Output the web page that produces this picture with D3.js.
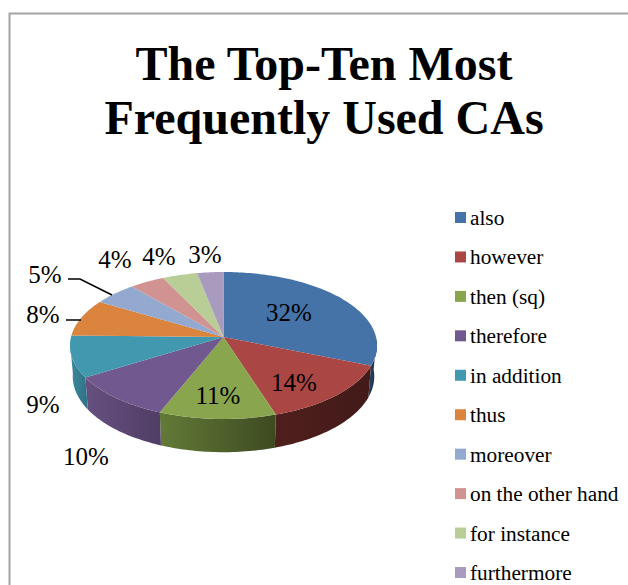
<!DOCTYPE html>
<html>
<head>
<meta charset="utf-8">
<title>The Top-Ten Most Frequently Used CAs</title>
<script src="https://cdn.jsdelivr.net/npm/d3@7"></script>
<style>
  html, body { margin: 0; padding: 0; background: #fff; overflow: hidden; }
  svg { display: block; }
  text { font-family: "Liberation Serif", "Times New Roman", serif; fill: #000; }
</style>
</head>
<body>
<svg id="chart" width="628" height="585"></svg>
<script>
// Connective adverbials and their share of use, in percent
const categories = ["also", "however", "then (sq)", "therefore", "in addition",
                    "thus", "moreover", "on the other hand", "for instance", "furthermore"];
const shares = [32, 14, 11, 10, 9, 8, 5, 4, 4, 3];
const titleLines = ["The Top-Ten Most", "Frequently Used CAs"];

// Slice colours: lid, then the left and right ends of the side-wall shading
const lidColors = ["#4572a7", "#aa4643", "#89a54e", "#71588f", "#4198af",
                   "#db843d", "#93a9cf", "#d19392", "#b9cd96", "#a99bbd"];
const wallLeft  = ["#253d5a", "#4f1f1d", "#637a38", "#66507f", "#3c8a9f",
                   "#000", "#000", "#000", "#000", "#000"];
const wallRight = ["#1c2f47", "#421a18", "#3d4a20", "#503e66", "#317487",
                   "#000", "#000", "#000", "#000", "#000"];

// Label anchors (centre x, baseline y), one per slice
const labelX = [289, 294, 218, 86, 43, 43, 45, 115, 159, 205];
const labelY = [321, 391, 404, 465, 413, 323, 283, 268, 265, 263];
// Leader lines for the labels that sit far from their slice
const leaders = [
  [[66, 320], [81, 320]],
  [[68, 279], [80, 279], [112, 295]]
];

const svg = d3.select("#chart");
const defs = svg.append("defs");

// Chart frame, open on the right and at the bottom
svg.append("path")
  .attr("d", "M9.5,585V13.5H628")
  .attr("fill", "none")
  .attr("stroke", "#a3a3a3")
  .attr("stroke-width", 2);

// Title
svg.append("g").selectAll("text").data(titleLines).join("text")
  .attr("x", 324)
  .attr("y", (d, i) => 80 + i * 54)
  .attr("text-anchor", "middle")
  .attr("font-size", 48)
  .attr("font-weight", "bold")
  .text(d => d);

// Tilted-disc projection: a unit circle seen in perspective, so the hub sits
// above the middle of the ellipse and the near side looks larger
const cx = 223.5, hubY = 337, radius = 152.5, persp = -0.1156, tiltY = 33.55;
const skew = 3.4 * Math.PI / 180;
function lid(angle) {
  const t = angle - skew * Math.sin(angle / 2);
  const u = Math.sin(t), v = -Math.cos(t), w = 1 + persp * v;
  return [cx + radius * u / w, (tiltY * v + hubY) / w];
}
// Lower rim of the disc, slightly narrower than the lid
function rim(angle) {
  const [x, y] = lid(angle);
  return [cx + (x - cx) * 0.982, 376 + (y - 345) * 1.03];
}
const path = d3.line();
function arcSteps(a0, a1) {
  const n = Math.max(2, Math.ceil((a1 - a0) / 0.02));
  return d3.range(n + 1).map(i => a0 + (a1 - a0) * i / n);
}

const arcs = d3.pie().sort(null).value(d => d)(shares);

// Side wall, only along the part of the rim that faces the viewer
const wallFrom = 94 * Math.PI / 180, wallTo = 268 * Math.PI / 180;
const walls = svg.append("g");
arcs.forEach((a, i) => {
  const a0 = Math.max(a.startAngle, wallFrom), a1 = Math.min(a.endAngle, wallTo);
  if (a1 <= a0) return;
  const steps = arcSteps(a0, a1);
  const top = steps.map(lid), bottom = steps.map(rim).reverse();
  const xs = top.map(p => p[0]);
  const grad = defs.append("linearGradient")
    .attr("id", "wall" + i)
    .attr("gradientUnits", "userSpaceOnUse")
    .attr("x1", d3.min(xs)).attr("x2", d3.max(xs))
    .attr("y1", 0).attr("y2", 0);
  grad.append("stop").attr("offset", 0).attr("stop-color", wallLeft[i]);
  grad.append("stop").attr("offset", 1).attr("stop-color", wallRight[i]);
  walls.append("path")
    .attr("d", path(top.concat(bottom)) + "Z")
    .attr("fill", `url(#wall${i})`);
});

// Lid of the disc
svg.append("g").selectAll("path").data(arcs).join("path")
  .attr("d", a => path([[cx, hubY]].concat(arcSteps(a.startAngle, a.endAngle).map(lid))) + "Z")
  .attr("fill", (a, i) => lidColors[i]);

// Leader lines and value labels
svg.append("g").selectAll("path").data(leaders).join("path")
  .attr("d", d => path(d))
  .attr("fill", "none")
  .attr("stroke", "#000")
  .attr("stroke-width", 1.5);

svg.append("g").selectAll("text").data(shares).join("text")
  .attr("x", (d, i) => labelX[i])
  .attr("y", (d, i) => labelY[i])
  .attr("text-anchor", "middle")
  .attr("font-size", 25)
  .text(d => d + "%");

// Legend
const legendY = d3.scalePoint().domain(categories).range([225, 580]);
const legend = svg.append("g").selectAll("g").data(categories).join("g")
  .attr("transform", d => `translate(0,${legendY(d)})`);
legend.append("rect")
  .attr("x", 455).attr("y", -13)
  .attr("width", 11).attr("height", 11)
  .attr("fill", (d, i) => lidColors[i]);
legend.append("text")
  .attr("x", 470)
  .attr("font-size", 21.3)
  .attr("fill", "#111")
  .text(d => d);
</script>
</body>
</html>
